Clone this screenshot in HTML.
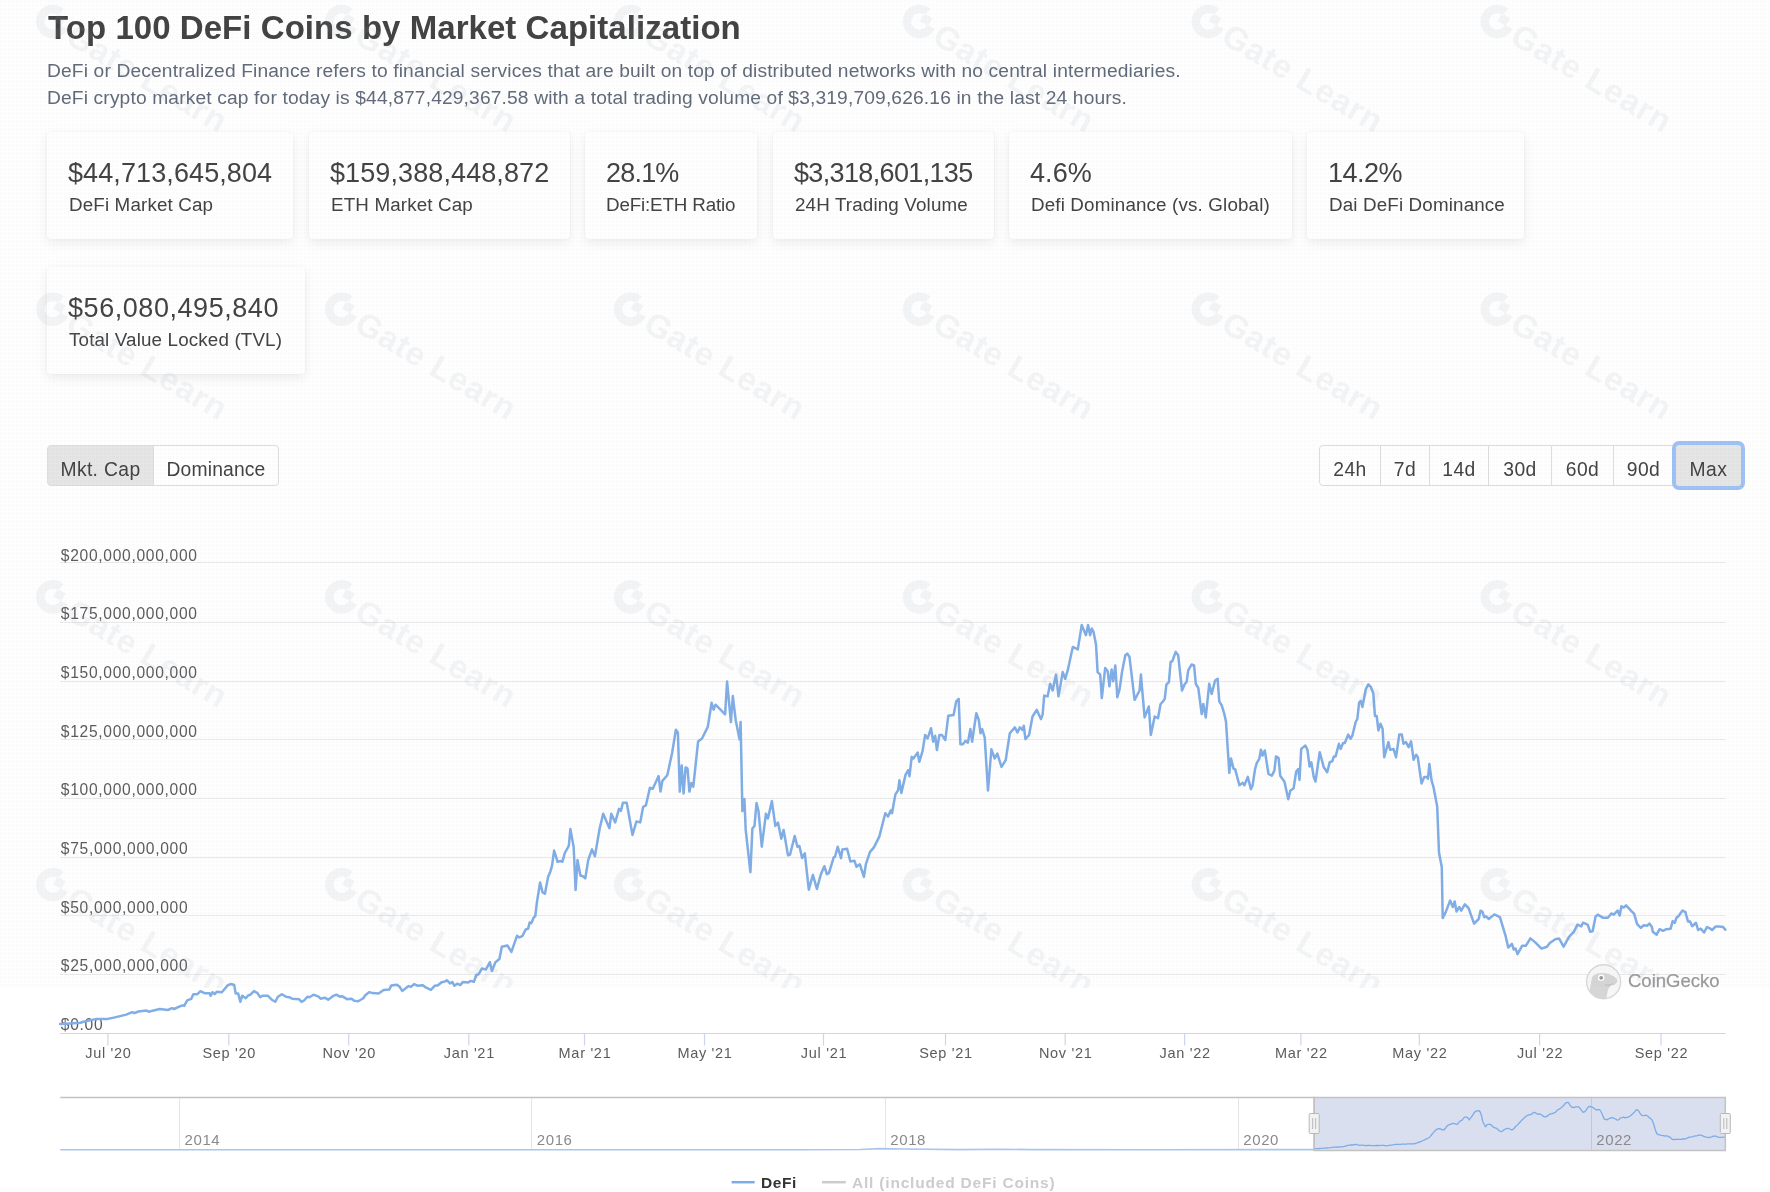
<!DOCTYPE html>
<html><head><meta charset="utf-8">
<style>
html,body{margin:0;padding:0;}
h1,.desc,.card .v,.card .l,.btn,svg{will-change:transform;}
body{width:1770px;height:1192px;overflow:hidden;background:#ffffff;position:relative;font-family:"Liberation Sans",sans-serif;color:#444;}
.abs{position:absolute;white-space:nowrap;}
h1{position:absolute;margin:0;left:48px;top:6px;font-size:33px;font-weight:bold;color:#444;letter-spacing:0.05px;line-height:44px;white-space:nowrap;}
.desc{position:absolute;left:47px;font-size:19.2px;color:#626b7b;white-space:nowrap;line-height:26px;}
.card{position:absolute;background:#fff;border-radius:4px;box-shadow:0 4px 12px rgba(0,0,0,0.07),0 0 3px rgba(0,0,0,0.04);height:107px;top:132px;}
.card .v{position:absolute;left:21px;font-size:27px;letter-spacing:0.1px;line-height:40px;color:#444;white-space:nowrap;}
.card .l{position:absolute;left:22px;font-size:18.8px;letter-spacing:0.15px;line-height:24px;color:#444;white-space:nowrap;}
.btn{position:absolute;top:445px;height:41px;border:1px solid #dedede;box-sizing:border-box;background:#fff;font-size:19.3px;letter-spacing:0.5px;color:#444;line-height:47px;text-align:center;}
</style></head>
<body>
<h1>Top 100 DeFi Coins by Market Capitalization</h1>
<div class="desc" style="top:58px;letter-spacing:0.15px">DeFi or Decentralized Finance refers to financial services that are built on top of distributed networks with no central intermediaries.</div>
<div class="desc" style="top:85px;letter-spacing:0.15px">DeFi crypto market cap for today is $44,877,429,367.58 with a total trading volume of $3,319,709,626.16 in the last 24 hours.</div>

<div class="card" style="left:47px;width:246px"><div class="v" style="top:21px">$44,713,645,804</div><div class="l" style="top:61px">DeFi Market Cap</div></div>
<div class="card" style="left:309px;width:261px"><div class="v" style="top:21px">$159,388,448,872</div><div class="l" style="top:61px">ETH Market Cap</div></div>
<div class="card" style="left:585px;width:172px"><div class="v" style="top:21px;letter-spacing:-0.8px">28.1%</div><div class="l" style="top:61px;left:21px;letter-spacing:-0.15px">DeFi:ETH Ratio</div></div>
<div class="card" style="left:773px;width:221px"><div class="v" style="top:21px;letter-spacing:-0.65px">$3,318,601,135</div><div class="l" style="top:61px">24H Trading Volume</div></div>
<div class="card" style="left:1009px;width:283px"><div class="v" style="top:21px">4.6%</div><div class="l" style="top:61px">Defi Dominance (vs. Global)</div></div>
<div class="card" style="left:1307px;width:217px"><div class="v" style="top:21px;letter-spacing:-0.5px">14.2%</div><div class="l" style="top:61px">Dai DeFi Dominance</div></div>
<div class="card" style="left:47px;width:258px;top:267px"><div class="v" style="top:21px;letter-spacing:0.55px">$56,080,495,840</div><div class="l" style="top:61px">Total Value Locked (TVL)</div></div>

<!-- toggle buttons -->
<div class="btn" style="left:47px;width:107px;background:#e6e6e6;border-radius:4px 0 0 4px;letter-spacing:0.35px;">Mkt. Cap</div>
<div class="btn" style="left:153px;width:126px;border-radius:0 4px 4px 0;letter-spacing:0.15px;">Dominance</div>

<div class="btn" style="left:1319px;width:62px;border-radius:4px 0 0 4px;">24h</div>
<div class="btn" style="left:1380px;width:50px;">7d</div>
<div class="btn" style="left:1429px;width:60px;">14d</div>
<div class="btn" style="left:1488px;width:64px;">30d</div>
<div class="btn" style="left:1551px;width:63px;">60d</div>
<div class="btn" style="left:1613px;width:61px;">90d</div>
<div class="btn" style="left:1672px;width:73px;top:441px;height:49px;line-height:49px;background:#e6e6e6;border:4px solid #9ec2f7;border-radius:7px;">Max</div>

<svg class="abs" style="left:0;top:0" width="1770" height="1192" viewBox="0 0 1770 1192">
<line x1="60.2" y1="974.5" x2="1725.7" y2="974.5" stroke="#eaeaec" stroke-width="1"/>
<line x1="60.2" y1="915.5" x2="1725.7" y2="915.5" stroke="#eaeaec" stroke-width="1"/>
<line x1="60.2" y1="857.5" x2="1725.7" y2="857.5" stroke="#eaeaec" stroke-width="1"/>
<line x1="60.2" y1="798.5" x2="1725.7" y2="798.5" stroke="#eaeaec" stroke-width="1"/>
<line x1="60.2" y1="739.5" x2="1725.7" y2="739.5" stroke="#eaeaec" stroke-width="1"/>
<line x1="60.2" y1="681.5" x2="1725.7" y2="681.5" stroke="#eaeaec" stroke-width="1"/>
<line x1="60.2" y1="622.5" x2="1725.7" y2="622.5" stroke="#eaeaec" stroke-width="1"/>
<line x1="60.2" y1="562.5" x2="1725.7" y2="562.5" stroke="#eaeaec" stroke-width="1"/>
<g font-family="Liberation Sans" font-size="15.6" fill="#5c5c5c" letter-spacing="0.7">
<text x="60.8" y="971.3">$25,000,000,000</text>
<text x="60.8" y="912.5">$50,000,000,000</text>
<text x="60.8" y="853.9">$75,000,000,000</text>
<text x="60.8" y="795.3">$100,000,000,000</text>
<text x="60.8" y="736.6">$125,000,000,000</text>
<text x="60.8" y="678">$150,000,000,000</text>
<text x="60.8" y="619.1">$175,000,000,000</text>
<text x="60.8" y="560.6">$200,000,000,000</text>
<text x="60.8" y="1029.8">$0.00</text>
</g>
<line x1="60.2" y1="1033.5" x2="1725.7" y2="1033.5" stroke="#ccd6eb" stroke-width="1.2"/>
<line x1="107.9" y1="1033" x2="107.9" y2="1045.5" stroke="#ccd6eb" stroke-width="1.2"/>
<line x1="228.8" y1="1033" x2="228.8" y2="1045.5" stroke="#ccd6eb" stroke-width="1.2"/>
<line x1="348.7" y1="1033" x2="348.7" y2="1045.5" stroke="#ccd6eb" stroke-width="1.2"/>
<line x1="468.8" y1="1033" x2="468.8" y2="1045.5" stroke="#ccd6eb" stroke-width="1.2"/>
<line x1="584.5" y1="1033" x2="584.5" y2="1045.5" stroke="#ccd6eb" stroke-width="1.2"/>
<line x1="704.5" y1="1033" x2="704.5" y2="1045.5" stroke="#ccd6eb" stroke-width="1.2"/>
<line x1="823.5" y1="1033" x2="823.5" y2="1045.5" stroke="#ccd6eb" stroke-width="1.2"/>
<line x1="945.5" y1="1033" x2="945.5" y2="1045.5" stroke="#ccd6eb" stroke-width="1.2"/>
<line x1="1065.2" y1="1033" x2="1065.2" y2="1045.5" stroke="#ccd6eb" stroke-width="1.2"/>
<line x1="1184.6" y1="1033" x2="1184.6" y2="1045.5" stroke="#ccd6eb" stroke-width="1.2"/>
<line x1="1300.9" y1="1033" x2="1300.9" y2="1045.5" stroke="#ccd6eb" stroke-width="1.2"/>
<line x1="1419.3" y1="1033" x2="1419.3" y2="1045.5" stroke="#ccd6eb" stroke-width="1.2"/>
<line x1="1539.6" y1="1033" x2="1539.6" y2="1045.5" stroke="#ccd6eb" stroke-width="1.2"/>
<line x1="1661" y1="1033" x2="1661" y2="1045.5" stroke="#ccd6eb" stroke-width="1.2"/>
<g font-family="Liberation Sans" font-size="14.5" fill="#5c5c5c" letter-spacing="0.7" text-anchor="middle">
<text x="108.4" y="1058.2">Jul '20</text>
<text x="229.3" y="1058.2">Sep '20</text>
<text x="349.2" y="1058.2">Nov '20</text>
<text x="469.3" y="1058.2">Jan '21</text>
<text x="585" y="1058.2">Mar '21</text>
<text x="705" y="1058.2">May '21</text>
<text x="824" y="1058.2">Jul '21</text>
<text x="946" y="1058.2">Sep '21</text>
<text x="1065.7" y="1058.2">Nov '21</text>
<text x="1185.1" y="1058.2">Jan '22</text>
<text x="1301.4" y="1058.2">Mar '22</text>
<text x="1419.8" y="1058.2">May '22</text>
<text x="1540.1" y="1058.2">Jul '22</text>
<text x="1661.5" y="1058.2">Sep '22</text>
</g>
<path d="M60.1 1024 L70.3 1023.4 L80.4 1022.7 L85.5 1021.2 L95.7 1019.1 L107.9 1018.9 L116 1017.1 L126.2 1014.6 L132.3 1012.2 L134.3 1013.2 L138.4 1011.5 L146.5 1010.5 L148.6 1011.7 L159.7 1009 L167.9 1010 L171.9 1008.2 L174 1009 L182.1 1005.4 L184.2 1005.9 L187.2 1000.3 L191.3 998.8 L193.3 994.2 L197.4 994.2 L200.4 991.2 L204.5 993.2 L209.6 993.2 L210.6 995.8 L212.6 992.2 L214.7 994.2 L216.7 991.7 L221.8 992.2 L227.9 985.1 L231.1 984 L234.2 985 L235.7 993.6 L238.2 993.6 L240.3 1001.8 L242.3 995.7 L245.8 998.2 L248.4 995.2 L250.4 994.7 L254 991.1 L257.5 993.1 L260.1 997.2 L262.6 995.7 L267.7 995.7 L271.8 999.7 L275.3 1001.8 L277.9 996.7 L281.9 994.2 L286 996.7 L289.1 997.2 L292.1 998.7 L299.2 999.2 L301.3 1001.8 L304.3 1000.3 L307.4 996.7 L309.4 997.2 L313.5 994.7 L318.6 996.7 L320.6 998.7 L324.7 997.7 L328.2 999.7 L332.8 996.2 L336.4 994.7 L339.9 996.7 L341.9 996.2 L347 999.2 L351.6 998.7 L354.2 1000.8 L358.2 1001.3 L363.3 998.2 L365.3 995.2 L369.4 992.1 L372.5 993.1 L378.6 993.6 L383.6 990.1 L389.2 989.6 L391.3 985.5 L396.9 984.7 L399.4 986.5 L402.2 990.9 L408.6 986.1 L410.9 986.9 L414.1 984.1 L417.3 985.7 L422.9 985.3 L425.3 987.2 L430.9 989.8 L434.9 985.7 L438 985.3 L441.2 982.5 L445.2 981.4 L446.8 980.2 L450 983.4 L452.4 982.1 L454.3 985.7 L457.2 983.7 L460.4 985 L462.8 982.1 L468.3 982.5 L470.7 980.9 L473.9 981.8 L476.3 975 L478.7 974.2 L481.9 968.6 L485.9 969.4 L489.9 962.2 L491.9 971 L495.4 962.2 L499.4 959 L501.8 946.8 L507.4 945.5 L511.4 951.9 L517 935.9 L519.4 937.5 L522.5 935.9 L525.7 929.5 L528.1 928.8 L529.7 922.4 L531.3 923.2 L533.7 917.6 L535.3 916 L536.9 902.4 L540.1 882.5 L542.5 892.1 L544.9 893.7 L548.1 876.9 L550.4 871.4 L552 865.8 L554.1 850.6 L557.6 861.8 L560.8 861 L562.4 861.8 L564.8 853 L568.8 845.9 L570.4 829.1 L573.7 847.5 L575.6 890 L577.5 860.1 L580.4 875.5 L583.3 876.5 L585.3 878.4 L588.2 860.1 L592 849.4 L594.9 856.2 L599.7 828.2 L603.2 813.8 L609.4 828.2 L611.3 813.8 L615.2 822.4 L619 808.9 L620.9 810.9 L622.9 802.8 L626.7 802.8 L632.5 835 L636.4 821.5 L640.2 822.4 L643.1 807 L646 805.1 L649.9 787.7 L652.8 788.7 L658.6 776.1 L660.5 791.6 L662.4 780.9 L667.3 775.2 L672.1 753 L675.9 729.8 L677.9 732.7 L679.8 791.6 L681.7 765.5 L683.6 793.5 L685.6 767.4 L687.5 768.4 L689.4 791.6 L691.4 782.9 L693.3 786.7 L698.1 741.4 L702 738.5 L707.8 726.9 L711.6 702.8 L713.6 709.6 L715.5 704.7 L725.1 714.4 L727.1 681.6 L730.9 722.1 L732.8 696 L735.7 720.2 L739.6 739.5 L740.6 722.1 L742.4 811.1 L744.4 799.1 L745.7 829.9 L750.4 872.2 L752.4 828.6 L754.5 825.9 L756.5 803.1 L758.5 811.1 L761.8 846.7 L765.9 813.8 L767.9 818.5 L771.9 801.1 L775.3 825.9 L778 822.6 L781.3 838.7 L783.6 829.9 L788 855.4 L790 854.8 L794.7 836 L797.4 846.7 L799.4 846 L802.1 858.1 L804.8 853.4 L808.8 889.7 L812.9 874.9 L816.9 889 L820.9 874.2 L824.3 866.2 L826.9 874.2 L829 872.9 L833.7 857.4 L835 856.8 L837.7 846.7 L841 858.1 L842.4 849.4 L847.1 848.7 L850.4 861.5 L854.5 860.8 L856.5 866.8 L859.8 864.2 L863.9 876.9 L865.9 864.2 L869.9 852.1 L873.9 847.4 L879.3 836.6 L885.3 813.2 L888 816.5 L890.7 810.5 L892 813.2 L895.4 794.4 L898.1 790.3 L899.4 780.3 L901.4 793 L905.5 774.9 L908.2 770.2 L909.5 776.2 L911.7 756.8 L913.4 758.5 L917.6 752.6 L919.3 761.8 L922.6 750.9 L925.1 735 L927.6 738.4 L931 728.3 L933.2 741.7 L935.2 735.8 L936.9 750.1 L939.4 735 L941.9 735 L945.3 740 L948.3 715.7 L953.6 714.9 L956.2 701.4 L958.7 698.9 L960.4 744.2 L962.9 744.2 L965.4 740.9 L967.9 742.6 L970.4 729.1 L972.1 741.7 L976.3 713.2 L978.8 719.9 L980.5 733.3 L982.2 729.1 L984.7 737.5 L988 790.4 L991.4 749.3 L994.7 758.5 L997.3 753.5 L1001.5 766.9 L1005.7 760.2 L1009.8 733.3 L1014.9 727.4 L1017.4 732.5 L1019.9 727.4 L1022.4 730 L1023.8 725.8 L1025.4 739.2 L1029.1 735 L1032.5 716.5 L1036.7 709.8 L1040.9 719.1 L1042.6 714.9 L1044.2 695.6 L1047.6 696.4 L1050.1 683.8 L1052.6 690.5 L1056 674.6 L1058.5 696.4 L1062.7 672.1 L1065.2 678.8 L1067.7 670.4 L1072.8 646.9 L1077.8 649.4 L1081.7 625.1 L1085.9 635.2 L1088.1 625.1 L1090.1 635.2 L1091.8 628.5 L1093.5 631.8 L1096 644.4 L1097.6 672.1 L1100.2 674.6 L1101.8 698.1 L1105.2 667.9 L1107.7 671.2 L1109.4 686.3 L1111.6 669.6 L1113.2 681.3 L1115.3 665.4 L1117.3 697.2 L1119.5 689.7 L1122 672.1 L1125.3 655.3 L1127.3 653.6 L1129.5 657 L1134.6 699.8 L1139.6 690.5 L1140.9 674.6 L1144.6 717.4 L1148.8 706.5 L1150.8 735 L1154.7 716.5 L1158 718.2 L1160.6 704 L1163.1 701.4 L1164.7 698.9 L1166.4 684.7 L1168.9 682.1 L1170.6 662 L1172.3 661.2 L1175.7 651.9 L1178.2 655.3 L1182 690.5 L1184.9 683.8 L1186.6 682.1 L1188.2 670.4 L1191.6 664.5 L1194.1 665.4 L1195.8 683.8 L1198.3 688 L1201.7 714 L1203.3 704 L1205.8 717.4 L1209.2 683.8 L1211.7 693.9 L1215.1 680.5 L1217.6 678.8 L1219.3 701.4 L1221.8 705.6 L1224.3 714 L1226 721.6 L1229.3 772.8 L1231 758.5 L1233.5 768.6 L1235.2 769.4 L1239.4 785.3 L1242.8 782.8 L1244.4 785.3 L1247.8 776.9 L1250.9 789.1 L1252.5 785.8 L1255.1 769 L1256.7 763.1 L1259.3 758.9 L1260.9 749.7 L1262.6 755.6 L1264.8 750.5 L1268.5 774 L1271.8 775.7 L1274.4 770.7 L1276 756.4 L1278.6 758.1 L1280.2 775.7 L1284.4 781.6 L1288.3 799.2 L1290.3 790.8 L1293.6 788.3 L1296.2 771.5 L1298.3 769 L1299.5 779.9 L1301.2 748.9 L1305.4 745.5 L1307.4 749.7 L1309.6 766.5 L1311.3 762.3 L1313.8 777.4 L1315.5 781.6 L1319.7 752.2 L1323.8 767.3 L1327.2 772.3 L1329.7 762.3 L1332.2 761.4 L1333.9 756.4 L1335.6 756.4 L1338.9 743.8 L1340.6 748.9 L1343.1 743 L1344.8 743 L1348.2 734.6 L1350.7 738.8 L1352.4 735.4 L1355.7 722 L1357.4 718.7 L1359.1 702.7 L1360.8 701 L1362.4 706.9 L1365.8 689.3 L1368.3 684.3 L1370.8 686.8 L1373.3 693.5 L1375 716.1 L1376.7 716.1 L1378.4 730.4 L1380.5 723.7 L1382.6 728.7 L1384.2 757.2 L1388.4 742.1 L1390.1 749.7 L1393.5 748.9 L1396 757.2 L1399.3 734.6 L1401.8 734.6 L1403.5 743.8 L1406 742.1 L1408.6 747.2 L1411.1 741.3 L1413.6 759.8 L1416.1 754.7 L1417.8 757.2 L1421.5 783.4 L1424.2 776.9 L1427 776.9 L1427.9 778.8 L1429.4 764 L1431.6 780.6 L1433.5 787.1 L1437.2 806.4 L1439 852.6 L1441.8 867.3 L1442.7 918.1 L1445.5 912.6 L1450.1 900.6 L1452.8 907 L1454.7 901.5 L1456.5 911.6 L1459.3 907 L1461.2 910.7 L1464.8 904.3 L1468.5 908 L1474.1 923.6 L1478.7 919 L1480.5 910.7 L1482.4 911.6 L1484.2 917.2 L1486.1 916.3 L1488.8 919 L1494.4 914.4 L1499.9 917.2 L1505.5 935.6 L1508.2 947.6 L1511.9 943.9 L1513.8 949.5 L1515.6 948.6 L1517.5 954.1 L1522.1 945.8 L1525.8 945.8 L1530.4 938.4 L1535 942.1 L1541.5 948.6 L1547 946.7 L1549.8 943 L1555.3 939.3 L1559 938.4 L1563.6 946.7 L1569.2 936.6 L1573.8 931.9 L1577.5 924.6 L1581.2 926.4 L1583 922.7 L1587.6 924.6 L1590.1 931.7 L1592.6 931.3 L1595.6 916.4 L1597.7 914.7 L1602.8 917.7 L1607.9 917.7 L1611.3 913.5 L1613.8 914.7 L1617.6 910.5 L1619.7 915.6 L1621.4 906.3 L1623.6 907.5 L1626.1 905.4 L1631.2 910.9 L1634.2 913.9 L1637.1 924.1 L1640.9 927.9 L1643.5 925.3 L1646.9 925.8 L1649.4 923.6 L1651.9 927 L1652.8 931.7 L1656.6 934.7 L1659.6 929.2 L1663 930.8 L1666.4 929.2 L1670.6 928.7 L1672.7 921.1 L1674.8 922.8 L1676.5 917.7 L1678.6 916 L1682.5 910.5 L1685.4 912.2 L1688 921.5 L1690.1 921.5 L1692.2 926.2 L1696 922.8 L1698.1 930 L1700.7 928.7 L1704.1 932.5 L1707 927 L1710.4 928.7 L1712.1 930 L1715.5 926.6 L1718.9 926.6 L1723.1 927 L1725.3 929.6" fill="none" stroke="#80aee7" stroke-width="2.5" stroke-linejoin="round" stroke-linecap="round"/>
<rect x="1314.2" y="1097.5" width="411.1" height="53" fill="#dadff0"/>
<line x1="179.5" y1="1097.5" x2="179.5" y2="1149.5" stroke="rgba(0,0,0,0.1)" stroke-width="1"/>
<line x1="531.5" y1="1097.5" x2="531.5" y2="1149.5" stroke="rgba(0,0,0,0.1)" stroke-width="1"/>
<line x1="885.5" y1="1097.5" x2="885.5" y2="1149.5" stroke="rgba(0,0,0,0.1)" stroke-width="1"/>
<line x1="1238.5" y1="1097.5" x2="1238.5" y2="1149.5" stroke="rgba(0,0,0,0.1)" stroke-width="1"/>
<line x1="1591.5" y1="1097.5" x2="1591.5" y2="1149.5" stroke="rgba(0,0,0,0.1)" stroke-width="1"/>
<g font-family="Liberation Sans" font-size="15" fill="#8a8a8a" letter-spacing="0.6">
<text x="184.5" y="1145.2">2014</text>
<text x="536.8" y="1145.2">2016</text>
<text x="890.3" y="1145.2">2018</text>
<text x="1243.3" y="1145.2">2020</text>
<text x="1596.3" y="1145.2">2022</text>
</g>
<path d="M60.2 1149.8 L800 1149.8 L860 1149.5 L880 1148.6 L905 1149 L960 1149.6 L1000 1149.2 L1030 1149.6 L1150 1149.8 L1314.2 1149.6" fill="none" stroke="#a9c6ee" stroke-width="1.6" stroke-linejoin="round"/>
<path d="M1314.2 1149.6 L1314.2 1148.6 L1316.7 1148.6 L1319.2 1148.5 L1320.4 1148.3 L1323 1148.2 L1326 1148 L1328 1147.8 L1330.5 1147.6 L1332 1147.4 L1333 1147.2 L1335.8 1147.1 L1338.8 1147 L1340.8 1146.9 L1342 1146.8 L1344.5 1146.4 L1346.1 1145.8 L1347.6 1145.3 L1349.3 1145.1 L1351.2 1145 L1352.3 1145 L1354.1 1144.6 L1355.6 1144.3 L1356.8 1144.5 L1358.1 1144.9 L1359.6 1145.3 L1360.9 1145.2 L1362.5 1145.2 L1363.9 1145.3 L1365.9 1145.6 L1367.6 1145.5 L1368.9 1145.4 L1370.3 1145.4 L1371.4 1145.7 L1373.5 1145.7 L1374.8 1145.6 L1376.2 1145.5 L1378.2 1145.5 L1379.5 1145.6 L1380.9 1145.4 L1382.4 1145.4 L1383.5 1145.4 L1385 1145.6 L1386.4 1145.8 L1387.8 1145.7 L1389.3 1145.4 L1390.9 1145.1 L1392.8 1144.9 L1394 1144.7 L1395.7 1144.4 L1397.6 1144.4 L1398.6 1144.3 L1400.5 1144.3 L1402 1144.1 L1403.7 1144.1 L1404.3 1144.2 L1406.2 1144.2 L1407.9 1143.9 L1409.4 1143.8 L1411 1143.8 L1412.6 1143.8 L1413.6 1143.8 L1415.2 1143.5 L1416.6 1143.1 L1417.9 1142.5 L1419.8 1142 L1421.2 1141.3 L1422.9 1140.5 L1424.6 1139.9 L1425.6 1139.2 L1427.2 1138.7 L1428.7 1137.7 L1430.1 1136.7 L1431.5 1135 L1433.2 1132.9 L1434.9 1130.9 L1436.2 1129.7 L1438 1128.8 L1439.2 1128.6 L1440.8 1128.9 L1442.3 1130 L1443.6 1129.9 L1445 1128.9 L1446.8 1126.4 L1448.2 1125.1 L1450 1124.3 L1451.2 1124 L1452.6 1123.3 L1454 1123.5 L1455.9 1124.1 L1457.4 1124.3 L1458.4 1122.7 L1460.1 1121.1 L1462.1 1120.1 L1462.8 1119.2 L1464.6 1117.1 L1466.4 1117.2 L1467.6 1117.7 L1469.3 1119.9 L1470.5 1118.2 L1472.1 1116.2 L1474 1113 L1475.5 1111.3 L1478.6 1110.6 L1480 1111.6 L1481.4 1115.2 L1482.8 1121.7 L1484.6 1125.3 L1485.6 1126.8 L1487 1124.6 L1488.6 1124.3 L1490.3 1124.4 L1491.8 1125.5 L1493.3 1127.1 L1494.3 1127.6 L1496.1 1128.1 L1497.7 1129.2 L1499.5 1131 L1501 1131.6 L1502.4 1131.2 L1503.7 1130 L1505.3 1129.2 L1506.8 1128.3 L1508.4 1128.4 L1509.8 1129 L1511.2 1129.8 L1512.8 1129.5 L1514.1 1128.5 L1515.7 1126.3 L1517.9 1124.7 L1518.9 1123.2 L1519.9 1122.2 L1521.4 1120.6 L1523.4 1118.8 L1524.6 1117.6 L1526 1116.3 L1527.7 1115.4 L1529.4 1114.7 L1530.7 1114.6 L1532.2 1113.8 L1533.4 1112.4 L1535.4 1112.7 L1536.7 1113.6 L1538.3 1114.4 L1539.8 1113.8 L1541.4 1114.8 L1542.8 1115.9 L1544.5 1116.9 L1545.5 1116.9 L1547.1 1116.1 L1548.6 1115.1 L1550.2 1113.8 L1551.8 1113.9 L1553.4 1113.2 L1554.7 1112.7 L1556.5 1111.2 L1557.5 1110 L1559.2 1109.1 L1560.6 1108.3 L1562.3 1106.8 L1564.1 1105 L1565.4 1103.2 L1566.9 1102.5 L1568.4 1102.5 L1569.8 1104.8 L1571.1 1106.6 L1572.7 1107.5 L1574.2 1107.5 L1575.7 1106.7 L1577.4 1106.9 L1578.8 1106.8 L1580.8 1109.3 L1581.9 1110.9 L1583.2 1112.3 L1584.8 1111.7 L1586.4 1109.9 L1587.8 1107.5 L1589.1 1106.4 L1590.6 1106.5 L1592.2 1107.1 L1594 1108.2 L1595.5 1109.4 L1596.7 1110.1 L1598.1 1109.6 L1599.8 1109.7 L1601.5 1112.7 L1603 1116 L1604 1118.8 L1605.7 1119.4 L1606.9 1119.9 L1608.6 1118.8 L1610.3 1118.1 L1612 1117.7 L1613.6 1118 L1614.9 1118.8 L1616.4 1119.6 L1617.6 1120.1 L1619.2 1119.5 L1620.3 1117.8 L1622.1 1117.7 L1623.6 1117.2 L1625.1 1117.9 L1626.5 1117.3 L1628.1 1117.2 L1629.7 1116.2 L1631.1 1115.2 L1632.7 1113.8 L1634.4 1112.1 L1635.8 1110.1 L1637.4 1109.8 L1638.7 1111 L1640.1 1113.5 L1641.8 1115.3 L1643.6 1115.6 L1645.1 1115.3 L1646.1 1115.2 L1647.6 1116 L1649.1 1117.5 L1650.5 1118.5 L1652.1 1120.1 L1653.6 1124 L1655.1 1129.3 L1656.7 1133.6 L1658.4 1134.8 L1659.8 1134.8 L1661.4 1135.4 L1663.2 1135.7 L1664.6 1136 L1665.7 1135.9 L1666.8 1135.8 L1668.2 1136.3 L1670.3 1137.4 L1671.6 1138.8 L1673.2 1139.6 L1675 1139.5 L1676 1139.1 L1677.7 1139.3 L1679.8 1139.3 L1681.2 1139.4 L1681.9 1139 L1683.7 1139 L1685.3 1138.8 L1686.7 1138.3 L1688.3 1137.5 L1689.8 1137.1 L1691.5 1136.9 L1692.8 1136.6 L1694.3 1136.2 L1696.2 1135.8 L1697.4 1135.7 L1698.9 1135.2 L1700.1 1135.1 L1702 1135.4 L1703.1 1136.2 L1704.7 1136.7 L1706.2 1137.2 L1707.5 1137.3 L1709.4 1137.5 L1710.7 1137.2 L1712.2 1136.7 L1713.4 1136.1 L1715.3 1136.1 L1716.8 1136.5 L1718.2 1137.1 L1719.5 1137.3 L1721.4 1137.3 L1722.8 1137.2 L1724.1 1137.2 L1725.2 1137.3" fill="none" stroke="#7cace6" stroke-width="1.3" stroke-linejoin="round"/>
<path d="M60.2 1097.5 H1314.2 V1150.5 H1314.2" fill="none" stroke="#c2c2c2" stroke-width="1.5"/>
<rect x="1314.2" y="1097.5" width="411.1" height="53" fill="none" stroke="#c2c2c2" stroke-width="1.5"/>
<rect x="1309.2" y="1113.5" width="10" height="20" rx="1" fill="#f2f2f2" stroke="#b8b8b8" stroke-width="1"/>
<path d="M1312.7 1118 V1129 M1315.7 1118 V1129" stroke="#b8b8b8" stroke-width="1"/>
<rect x="1720.3" y="1113.5" width="10" height="20" rx="1" fill="#f2f2f2" stroke="#b8b8b8" stroke-width="1"/>
<path d="M1723.8 1118 V1129 M1726.8 1118 V1129" stroke="#b8b8b8" stroke-width="1"/>
<clipPath id="cgc"><circle cx="1603.6" cy="981.7" r="17"/></clipPath>
<circle cx="1603.6" cy="981.7" r="17" fill="#f7f7f7" stroke="#d9d9d9" stroke-width="1.4"/>
<path clip-path="url(#cgc)" d="M1588 1000 L1591.5 980 C1592 975 1596 973 1602 973 C1609 973 1614 976 1617 979 C1618 982 1616 985 1611 985.5 C1608 988 1607 993 1606.5 1000 Z" fill="#d6d6d6"/>
<circle cx="1601.2" cy="977.8" r="3.3" fill="#fff"/><circle cx="1601.2" cy="977.8" r="1.9" fill="#9a9a9a"/>
<path d="M1605 985 C1608 985.5 1611 985 1613 983.5" fill="none" stroke="#bdbdbd" stroke-width="1"/>
<text x="1628" y="986.6" font-family="Liberation Sans" font-size="18.5" fill="#9b9b9b" stroke="#9b9b9b" stroke-width="0.25">CoinGecko</text>
<line x1="731.6" y1="1182.2" x2="754.7" y2="1182.2" stroke="#7cace6" stroke-width="2.5"/>
<text x="761" y="1187.6" font-family="Liberation Sans" font-weight="bold" font-size="15.5" fill="#333" letter-spacing="0.6">DeFi</text>
<line x1="822" y1="1182.2" x2="845.8" y2="1182.2" stroke="#cccccc" stroke-width="2.5"/>
<text x="852" y="1187.6" font-family="Liberation Sans" font-weight="bold" font-size="15.5" fill="#cccccc" letter-spacing="0.8">All (included DeFi Coins)</text>
<clipPath id="wmclip"><rect x="0" y="0" width="1770" height="988"/></clipPath>
<pattern id="dots" x="0" y="0" width="4" height="4" patternUnits="userSpaceOnUse"><path d="M0.5 0.5h2v2h-2z" fill="none" stroke="rgba(0,0,0,0.015)" stroke-width="1"/></pattern>
<rect x="0" y="0" width="1770" height="988" fill="url(#dots)"/>
<rect x="0" y="1188" width="1770" height="4" fill="url(#dots)"/>
<g fill="rgba(140,150,170,0.105)" clip-path="url(#wmclip)">
<g transform="translate(52.8 21.5) rotate(30.5)"><path d="M16.74 -1.46 A16.8 16.8 0 1 1 2.92 -16.54 L1.42 -8.08 A8.2 8.2 0 1 0 8.17 -0.71 Z M0 -0.5 H9.5 V-9.5 H0 Z"/><text x="20" y="12" font-family="Liberation Sans" font-weight="bold" font-size="33" letter-spacing="0.8">Gate Learn</text></g>
<g transform="translate(341.7 21.5) rotate(30.5)"><path d="M16.74 -1.46 A16.8 16.8 0 1 1 2.92 -16.54 L1.42 -8.08 A8.2 8.2 0 1 0 8.17 -0.71 Z M0 -0.5 H9.5 V-9.5 H0 Z"/><text x="20" y="12" font-family="Liberation Sans" font-weight="bold" font-size="33" letter-spacing="0.8">Gate Learn</text></g>
<g transform="translate(630.6 21.5) rotate(30.5)"><path d="M16.74 -1.46 A16.8 16.8 0 1 1 2.92 -16.54 L1.42 -8.08 A8.2 8.2 0 1 0 8.17 -0.71 Z M0 -0.5 H9.5 V-9.5 H0 Z"/><text x="20" y="12" font-family="Liberation Sans" font-weight="bold" font-size="33" letter-spacing="0.8">Gate Learn</text></g>
<g transform="translate(919.5 21.5) rotate(30.5)"><path d="M16.74 -1.46 A16.8 16.8 0 1 1 2.92 -16.54 L1.42 -8.08 A8.2 8.2 0 1 0 8.17 -0.71 Z M0 -0.5 H9.5 V-9.5 H0 Z"/><text x="20" y="12" font-family="Liberation Sans" font-weight="bold" font-size="33" letter-spacing="0.8">Gate Learn</text></g>
<g transform="translate(1208.4 21.5) rotate(30.5)"><path d="M16.74 -1.46 A16.8 16.8 0 1 1 2.92 -16.54 L1.42 -8.08 A8.2 8.2 0 1 0 8.17 -0.71 Z M0 -0.5 H9.5 V-9.5 H0 Z"/><text x="20" y="12" font-family="Liberation Sans" font-weight="bold" font-size="33" letter-spacing="0.8">Gate Learn</text></g>
<g transform="translate(1497.3 21.5) rotate(30.5)"><path d="M16.74 -1.46 A16.8 16.8 0 1 1 2.92 -16.54 L1.42 -8.08 A8.2 8.2 0 1 0 8.17 -0.71 Z M0 -0.5 H9.5 V-9.5 H0 Z"/><text x="20" y="12" font-family="Liberation Sans" font-weight="bold" font-size="33" letter-spacing="0.8">Gate Learn</text></g>
<g transform="translate(52.8 309.2) rotate(30.5)"><path d="M16.74 -1.46 A16.8 16.8 0 1 1 2.92 -16.54 L1.42 -8.08 A8.2 8.2 0 1 0 8.17 -0.71 Z M0 -0.5 H9.5 V-9.5 H0 Z"/><text x="20" y="12" font-family="Liberation Sans" font-weight="bold" font-size="33" letter-spacing="0.8">Gate Learn</text></g>
<g transform="translate(341.7 309.2) rotate(30.5)"><path d="M16.74 -1.46 A16.8 16.8 0 1 1 2.92 -16.54 L1.42 -8.08 A8.2 8.2 0 1 0 8.17 -0.71 Z M0 -0.5 H9.5 V-9.5 H0 Z"/><text x="20" y="12" font-family="Liberation Sans" font-weight="bold" font-size="33" letter-spacing="0.8">Gate Learn</text></g>
<g transform="translate(630.6 309.2) rotate(30.5)"><path d="M16.74 -1.46 A16.8 16.8 0 1 1 2.92 -16.54 L1.42 -8.08 A8.2 8.2 0 1 0 8.17 -0.71 Z M0 -0.5 H9.5 V-9.5 H0 Z"/><text x="20" y="12" font-family="Liberation Sans" font-weight="bold" font-size="33" letter-spacing="0.8">Gate Learn</text></g>
<g transform="translate(919.5 309.2) rotate(30.5)"><path d="M16.74 -1.46 A16.8 16.8 0 1 1 2.92 -16.54 L1.42 -8.08 A8.2 8.2 0 1 0 8.17 -0.71 Z M0 -0.5 H9.5 V-9.5 H0 Z"/><text x="20" y="12" font-family="Liberation Sans" font-weight="bold" font-size="33" letter-spacing="0.8">Gate Learn</text></g>
<g transform="translate(1208.4 309.2) rotate(30.5)"><path d="M16.74 -1.46 A16.8 16.8 0 1 1 2.92 -16.54 L1.42 -8.08 A8.2 8.2 0 1 0 8.17 -0.71 Z M0 -0.5 H9.5 V-9.5 H0 Z"/><text x="20" y="12" font-family="Liberation Sans" font-weight="bold" font-size="33" letter-spacing="0.8">Gate Learn</text></g>
<g transform="translate(1497.3 309.2) rotate(30.5)"><path d="M16.74 -1.46 A16.8 16.8 0 1 1 2.92 -16.54 L1.42 -8.08 A8.2 8.2 0 1 0 8.17 -0.71 Z M0 -0.5 H9.5 V-9.5 H0 Z"/><text x="20" y="12" font-family="Liberation Sans" font-weight="bold" font-size="33" letter-spacing="0.8">Gate Learn</text></g>
<g transform="translate(52.8 596.9) rotate(30.5)"><path d="M16.74 -1.46 A16.8 16.8 0 1 1 2.92 -16.54 L1.42 -8.08 A8.2 8.2 0 1 0 8.17 -0.71 Z M0 -0.5 H9.5 V-9.5 H0 Z"/><text x="20" y="12" font-family="Liberation Sans" font-weight="bold" font-size="33" letter-spacing="0.8">Gate Learn</text></g>
<g transform="translate(341.7 596.9) rotate(30.5)"><path d="M16.74 -1.46 A16.8 16.8 0 1 1 2.92 -16.54 L1.42 -8.08 A8.2 8.2 0 1 0 8.17 -0.71 Z M0 -0.5 H9.5 V-9.5 H0 Z"/><text x="20" y="12" font-family="Liberation Sans" font-weight="bold" font-size="33" letter-spacing="0.8">Gate Learn</text></g>
<g transform="translate(630.6 596.9) rotate(30.5)"><path d="M16.74 -1.46 A16.8 16.8 0 1 1 2.92 -16.54 L1.42 -8.08 A8.2 8.2 0 1 0 8.17 -0.71 Z M0 -0.5 H9.5 V-9.5 H0 Z"/><text x="20" y="12" font-family="Liberation Sans" font-weight="bold" font-size="33" letter-spacing="0.8">Gate Learn</text></g>
<g transform="translate(919.5 596.9) rotate(30.5)"><path d="M16.74 -1.46 A16.8 16.8 0 1 1 2.92 -16.54 L1.42 -8.08 A8.2 8.2 0 1 0 8.17 -0.71 Z M0 -0.5 H9.5 V-9.5 H0 Z"/><text x="20" y="12" font-family="Liberation Sans" font-weight="bold" font-size="33" letter-spacing="0.8">Gate Learn</text></g>
<g transform="translate(1208.4 596.9) rotate(30.5)"><path d="M16.74 -1.46 A16.8 16.8 0 1 1 2.92 -16.54 L1.42 -8.08 A8.2 8.2 0 1 0 8.17 -0.71 Z M0 -0.5 H9.5 V-9.5 H0 Z"/><text x="20" y="12" font-family="Liberation Sans" font-weight="bold" font-size="33" letter-spacing="0.8">Gate Learn</text></g>
<g transform="translate(1497.3 596.9) rotate(30.5)"><path d="M16.74 -1.46 A16.8 16.8 0 1 1 2.92 -16.54 L1.42 -8.08 A8.2 8.2 0 1 0 8.17 -0.71 Z M0 -0.5 H9.5 V-9.5 H0 Z"/><text x="20" y="12" font-family="Liberation Sans" font-weight="bold" font-size="33" letter-spacing="0.8">Gate Learn</text></g>
<g transform="translate(52.8 884.6) rotate(30.5)"><path d="M16.74 -1.46 A16.8 16.8 0 1 1 2.92 -16.54 L1.42 -8.08 A8.2 8.2 0 1 0 8.17 -0.71 Z M0 -0.5 H9.5 V-9.5 H0 Z"/><text x="20" y="12" font-family="Liberation Sans" font-weight="bold" font-size="33" letter-spacing="0.8">Gate Learn</text></g>
<g transform="translate(341.7 884.6) rotate(30.5)"><path d="M16.74 -1.46 A16.8 16.8 0 1 1 2.92 -16.54 L1.42 -8.08 A8.2 8.2 0 1 0 8.17 -0.71 Z M0 -0.5 H9.5 V-9.5 H0 Z"/><text x="20" y="12" font-family="Liberation Sans" font-weight="bold" font-size="33" letter-spacing="0.8">Gate Learn</text></g>
<g transform="translate(630.6 884.6) rotate(30.5)"><path d="M16.74 -1.46 A16.8 16.8 0 1 1 2.92 -16.54 L1.42 -8.08 A8.2 8.2 0 1 0 8.17 -0.71 Z M0 -0.5 H9.5 V-9.5 H0 Z"/><text x="20" y="12" font-family="Liberation Sans" font-weight="bold" font-size="33" letter-spacing="0.8">Gate Learn</text></g>
<g transform="translate(919.5 884.6) rotate(30.5)"><path d="M16.74 -1.46 A16.8 16.8 0 1 1 2.92 -16.54 L1.42 -8.08 A8.2 8.2 0 1 0 8.17 -0.71 Z M0 -0.5 H9.5 V-9.5 H0 Z"/><text x="20" y="12" font-family="Liberation Sans" font-weight="bold" font-size="33" letter-spacing="0.8">Gate Learn</text></g>
<g transform="translate(1208.4 884.6) rotate(30.5)"><path d="M16.74 -1.46 A16.8 16.8 0 1 1 2.92 -16.54 L1.42 -8.08 A8.2 8.2 0 1 0 8.17 -0.71 Z M0 -0.5 H9.5 V-9.5 H0 Z"/><text x="20" y="12" font-family="Liberation Sans" font-weight="bold" font-size="33" letter-spacing="0.8">Gate Learn</text></g>
<g transform="translate(1497.3 884.6) rotate(30.5)"><path d="M16.74 -1.46 A16.8 16.8 0 1 1 2.92 -16.54 L1.42 -8.08 A8.2 8.2 0 1 0 8.17 -0.71 Z M0 -0.5 H9.5 V-9.5 H0 Z"/><text x="20" y="12" font-family="Liberation Sans" font-weight="bold" font-size="33" letter-spacing="0.8">Gate Learn</text></g>
</g>
</svg>
</body></html>
